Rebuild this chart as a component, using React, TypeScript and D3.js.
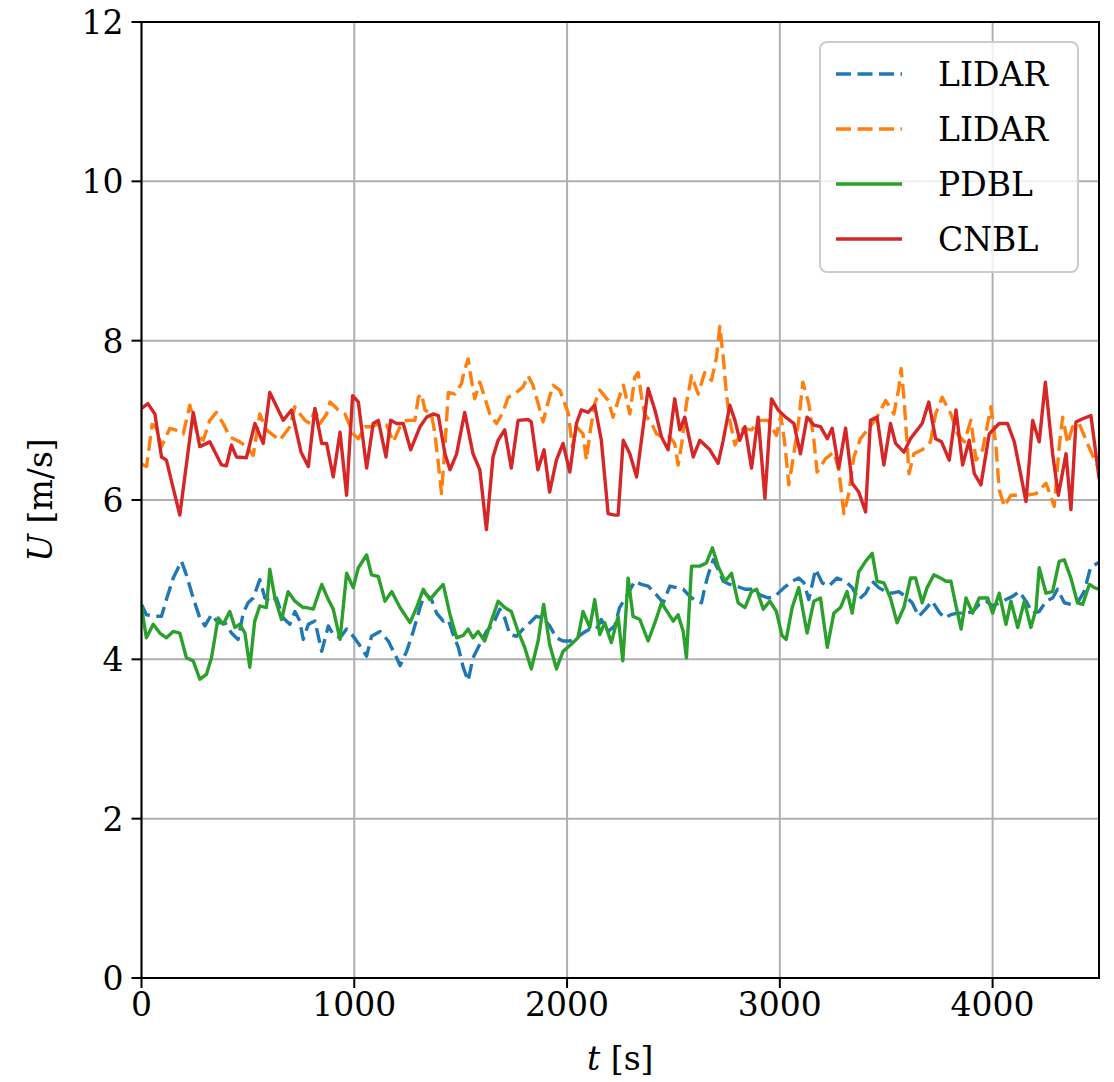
import React from "react";
import * as d3 from "d3";

type P = [number, number];

const xTicks = [0, 1000, 2000, 3000, 4000];
const yTicks = [0, 2, 4, 6, 8, 10, 12];

const lidar1: P[] = [[0,4.69],[23,4.56],[63,4.54],[94,4.54],[117,4.75],[149,5.02],[188,5.23],[211,5.06],[243,4.77],[274,4.52],[298,4.42],[329,4.56],[360,4.46],[392,4.46],[423,4.33],[454,4.25],[478,4.58],[501,4.71],[525,4.77],[556,5.0],[580,4.77],[611,4.71],[634,4.77],[666,4.52],[697,4.44],[721,4.6],[744,4.48],
[760,4.25],[784,4.44],[815,4.48],[847,4.1],[878,4.42],[901,4.31],[933,4.27],[964,4.38],[995,4.29],[1027,4.17],[1058,4.04],[1081,4.29],[1121,4.35],[1160,4.23],[1199,4.02],[1215,3.92],[1246,4.1],[1277,4.35],[1309,4.65],[1332,4.83],[1363,4.75],[1387,4.58],[1418,4.48],[1442,4.5],[1465,4.31],[1489,4.15],
[1512,3.9],[1535,3.73],[1558,4.02],[1590,4.19],[1621,4.35],[1652,4.44],[1684,4.63],[1707,4.52],[1731,4.31],[1762,4.29],[1793,4.38],[1825,4.46],[1856,4.54],[1887,4.52],[1918,4.42],[1950,4.27],[1981,4.23],[2013,4.23],[2044,4.27],[2075,4.33],[2107,4.38],[2138,4.38],[2161,4.5],[2193,4.35],[2224,4.42],[2247,4.65],
[2279,4.79],[2318,4.98],[2350,4.94],[2381,4.92],[2420,4.81],[2452,4.71],[2483,4.92],[2514,4.9],[2546,4.88],[2577,4.79],[2608,4.73],[2632,4.71],[2647,4.9],[2663,5.06],[2687,5.25],[2710,5.13],[2734,4.98],[2765,4.94],[2797,4.92],[2836,4.88],[2875,4.88],[2906,4.81],[2945,4.77],[2977,4.79],
[3020,4.9],[3058,4.98],[3089,5.02],[3113,4.96],[3136,4.75],[3168,5.13],[3199,4.96],[3230,4.92],[3269,5.02],[3309,4.98],[3340,4.9],[3371,4.75],[3403,4.83],[3434,4.98],[3465,4.9],[3497,4.85],[3528,4.83],[3559,4.85],[3591,4.79],[3622,4.71],[3653,4.54],[3685,4.63],[3716,4.73],[3747,4.6],
[3773,4.52],[3804,4.56],[3835,4.58],[3875,4.58],[3906,4.6],[3937,4.69],[3969,4.73],[4000,4.67],[4031,4.71],[4063,4.75],[4094,4.79],[4125,4.85],[4157,4.73],[4188,4.58],[4219,4.6],[4251,4.73],[4282,4.77],[4305,4.88],[4337,4.71],[4368,4.69],[4399,4.71],[4430,4.85],[4460,5.15],[4500,5.22]];

const lidar2: P[] = [[0,6.45],[24,6.42],[50,6.95],[70,6.9],[94,6.67],[133,6.9],[160,6.88],[196,6.83],[227,7.19],[266,6.8],[290,6.75],[321,7.0],[352,7.1],[384,6.96],[415,6.79],[462,6.73],[493,6.67],[525,6.56],[556,7.08],[587,6.88],[650,6.75],[697,6.92],[721,7.17],[745,7.08],[768,7.0],
[792,6.96],[815,7.13],[839,6.96],[870,7.08],[886,7.23],[925,7.13],[956,7.08],[995,6.83],[1019,6.77],[1050,6.92],[1081,6.92],[1121,6.96],[1152,6.94],[1183,6.73],[1215,6.92],[1246,7.0],[1285,7.0],[1301,7.29],[1316,7.33],[1332,7.13],[1363,7.08],[1379,6.83],[1395,6.46],[1410,6.08],[1426,6.67],[1442,7.35],[1473,7.33],[1504,7.46],
[1515,7.6],[1535,7.77],[1551,7.5],[1566,7.27],[1590,7.48],[1613,7.29],[1637,7.08],[1668,6.96],[1699,7.1],[1723,7.29],[1754,7.33],[1793,7.42],[1817,7.56],[1840,7.44],[1864,7.21],[1887,6.98],[1911,7.23],[1934,7.44],[1966,7.38],[1989,7.21],[2005,7.1],[2025,6.67],[2044,6.92],[2075,6.83],[2091,6.5],[2107,6.83],[2130,7.21],[2154,7.38],[2193,7.25],[2216,7.04],[2240,7.25],
[2265,7.44],[2295,7.08],[2318,7.54],[2334,7.6],[2350,7.29],[2365,7.08],[2397,6.96],[2420,6.83],[2452,6.79],[2483,6.79],[2506,6.71],[2522,6.44],[2538,6.69],[2561,7.21],[2585,7.56],[2616,7.33],[2647,7.6],[2679,7.5],[2702,7.79],[2718,8.18],[2734,7.79],[2749,7.33],[2765,7.0],[2789,6.69],[2828,6.9],[2867,6.88],[2906,7.0],[2945,7.0],[2984,6.81],[3005,7.06],
[3025,6.67],[3042,6.19],[3066,6.58],[3089,7.0],[3108,7.48],[3136,7.21],[3160,6.75],[3175,6.35],[3215,6.52],[3254,6.6],[3277,6.38],[3301,5.83],[3324,6.08],[3348,6.54],[3379,6.77],[3418,6.9],[3457,7.04],[3497,7.25],[3536,7.08],[3559,7.4],[3570,7.65],[3583,7.29],[3599,6.67],[3607,6.33],[3630,6.58],[3669,6.63],[3708,6.73],[3732,7.08],[3763,7.29],
[3804,7.08],[3835,6.83],[3867,6.73],[3898,7.0],[3922,6.5],[3953,6.63],[3992,7.17],[4016,6.67],[4031,6.13],[4055,5.92],[4086,6.06],[4125,6.06],[4157,6.06],[4204,6.08],[4251,6.21],[4290,5.92],[4313,6.67],[4329,7.04],[4353,6.71],[4376,6.92],[4407,6.96],[4439,6.75],[4470,6.56],[4500,6.4]];

const pdbl: P[] = [[0,4.65],[23,4.27],[55,4.44],[86,4.33],[117,4.27],[149,4.35],[180,4.33],[211,4.02],[243,3.98],[274,3.75],[305,3.81],[329,4.02],[360,4.52],[384,4.44],[415,4.6],[439,4.4],[462,4.44],[486,4.33],[509,3.9],[532,4.48],[556,4.67],[587,4.65],[603,5.13],[627,4.77],[658,4.5],[689,4.85],[721,4.73],[760,4.65],
[776,4.65],[807,4.63],[847,4.94],[878,4.75],[901,4.63],[933,4.25],[964,5.08],[995,4.9],[1019,5.15],[1058,5.31],[1081,5.06],[1113,5.04],[1144,4.73],[1176,4.85],[1215,4.65],[1262,4.46],[1293,4.65],[1324,4.88],[1355,4.75],[1387,4.85],[1418,4.94],[1450,4.56],[1481,4.27],[1512,4.3],
[1535,4.38],[1558,4.27],[1582,4.35],[1613,4.23],[1644,4.48],[1676,4.73],[1707,4.65],[1738,4.6],[1770,4.35],[1801,4.15],[1832,3.88],[1864,4.23],[1890,4.69],[1918,4.19],[1950,3.88],[1981,4.1],[2020,4.19],[2051,4.27],[2075,4.6],[2107,4.4],[2130,4.75],[2154,4.31],[2177,4.46],[2208,4.21],[2240,4.54],
[2262,3.98],[2287,5.02],[2310,4.54],[2342,4.5],[2381,4.23],[2413,4.46],[2444,4.71],[2475,4.58],[2499,4.48],[2522,4.56],[2546,4.35],[2561,4.02],[2585,5.17],[2624,5.17],[2655,5.21],[2683,5.4],[2710,5.17],[2742,4.98],[2773,5.08],[2804,4.71],[2836,4.65],[2867,4.85],[2891,4.88],[2922,4.63],[2953,4.73],[2984,4.6],[3010,4.3],[3030,4.25],
[3058,4.65],[3089,4.9],[3128,4.33],[3160,4.73],[3191,4.77],[3223,4.15],[3254,4.58],[3285,4.65],[3316,4.85],[3340,4.58],[3371,5.1],[3403,5.23],[3434,5.33],[3457,4.98],[3489,4.96],[3520,4.77],[3551,4.46],[3583,4.65],[3614,5.02],[3638,5.02],[3669,4.71],[3692,4.9],[3724,5.06],[3755,5.02],
[3781,4.98],[3804,4.98],[3828,4.67],[3852,4.38],[3875,4.77],[3906,4.58],[3937,4.77],[3977,4.77],[4000,4.58],[4031,4.83],[4063,4.44],[4086,4.73],[4118,4.4],[4149,4.73],[4180,4.4],[4204,4.63],[4219,5.15],[4251,4.83],[4282,4.85],[4313,5.23],[4337,5.25],[4368,5.02],[4399,4.71],[4423,4.69],[4455,4.94],[4478,4.9],[4500,4.88]];

const cnbl: P[] = [[0,7.15],[30,7.21],[63,7.08],[94,6.54],[117,6.5],[180,5.81],[243,7.1],[274,6.67],[321,6.73],[376,6.44],[399,6.43],[423,6.69],[446,6.54],[493,6.53],[533,6.96],[572,6.71],[603,7.35],[666,7.0],[705,7.13],[750,6.6],
[784,6.42],[815,7.15],[847,6.71],[870,6.71],[901,6.29],[933,6.85],[964,6.06],[992,7.31],[1019,7.23],[1058,6.4],[1089,6.96],[1113,7.0],[1149,6.54],[1171,7.0],[1199,6.96],[1230,6.96],[1265,6.63],[1309,6.92],[1340,7.04],[1371,7.08],[1395,7.06],[1426,6.58],[1450,6.38],[1481,6.58],[1519,7.1],
[1558,6.58],[1590,6.38],[1621,5.63],[1652,6.54],[1676,6.75],[1707,6.88],[1738,6.4],[1770,7.0],[1817,7.01],[1832,6.98],[1863,6.38],[1892,6.63],[1918,6.1],[1950,6.5],[1981,6.71],[2013,6.35],[2044,6.96],[2067,7.13],[2099,7.1],[2130,7.19],[2161,6.75],[2193,5.83],[2224,5.81],[2240,5.81],[2264,6.75],
[2295,6.58],[2327,6.29],[2358,6.92],[2381,7.4],[2413,7.13],[2444,6.79],[2475,6.63],[2506,7.27],[2530,6.88],[2553,7.04],[2593,6.54],[2624,6.75],[2671,6.63],[2710,6.46],[2734,6.75],[2765,7.19],[2789,7.0],[2812,6.75],[2836,6.92],[2867,6.4],[2898,7.04],[2930,6.02],[2961,7.27],[2992,7.13],
[3027,7.04],[3066,6.96],[3097,6.58],[3128,7.04],[3160,6.94],[3191,6.92],[3223,6.77],[3246,6.9],[3277,6.4],[3309,6.9],[3340,6.21],[3371,6.1],[3403,5.85],[3426,7.0],[3457,7.04],[3489,6.44],[3520,6.96],[3544,6.71],[3583,6.6],[3614,6.77],[3669,6.96],[3700,7.23],[3732,6.77],[3760,6.73],
[3796,6.5],[3828,7.13],[3859,6.44],[3890,6.75],[3914,6.33],[3945,6.19],[3984,6.83],[4031,6.96],[4070,6.96],[4102,6.73],[4157,5.98],[4188,7.0],[4219,6.73],[4248,7.48],[4282,6.58],[4309,6.06],[4345,6.58],[4368,5.88],[4392,6.98],[4423,7.02],[4462,7.06],[4500,6.28]];

const seriesNames = ["LIDAR", "LIDAR", "PDBL", "CNBL"];
const seriesColors = ["#1f77b4", "#ff7f0e", "#2ca02c", "#d62728"];
const seriesDashed = [true, true, false, false];
const seriesData = [lidar1, lidar2, pdbl, cnbl];

const W = 1114, H = 1082;
const L = 141.5, R = 1099, T = 22, B = 978;
const FONT = "'DejaVu Serif', serif";
const FS = 33;

export default function App() {
  const x = d3.scaleLinear().domain([0, 4500]).range([L, R]);
  const y = d3.scaleLinear().domain([0, 12]).range([B, T]);
  const line = d3.line<P>().x(d => x(d[0])).y(d => y(d[1]));
  const dash = "15,6.5";

  const legX = 820, legY = 42, legW = 258, legH = 230;
  const rowY = [74, 129, 184, 239];

  return (
    <svg width={W} height={H} style={{ position: "absolute", left: 0, top: 0, background: "#fff" }}>
      <defs>
        <clipPath id="plotclip">
          <rect x={L} y={T} width={R - L} height={B - T} />
        </clipPath>
      </defs>
      <rect x={0} y={0} width={W} height={H} fill="#fff" />
      {/* grid */}
      {xTicks.map(t => (
        <line key={"gx" + t} x1={x(t)} x2={x(t)} y1={T} y2={B} stroke="#b0b0b0" strokeWidth={2} />
      ))}
      {yTicks.map(t => (
        <line key={"gy" + t} x1={L} x2={R} y1={y(t)} y2={y(t)} stroke="#b0b0b0" strokeWidth={2} />
      ))}
      {/* series */}
      <g clipPath="url(#plotclip)">
        {seriesData.map((s, i) => (
          <path key={i} d={line(s) || ""} fill="none" stroke={seriesColors[i]} strokeWidth={3.4}
            strokeDasharray={seriesDashed[i] ? dash : undefined} strokeLinejoin="round" strokeLinecap={seriesDashed[i] ? "butt" : "square"} />
        ))}
      </g>
      {/* spines */}
      <rect x={L} y={T} width={R - L} height={B - T} fill="none" stroke="#000" strokeWidth={2} />
      {/* ticks */}
      {xTicks.map(t => (
        <g key={"tx" + t}>
          <line x1={x(t)} x2={x(t)} y1={B} y2={B + 10} stroke="#000" strokeWidth={2} />
          <text x={x(t)} y={B + 38} textAnchor="middle" fontFamily={FONT} fontSize={FS} fill="#000">{t}</text>
        </g>
      ))}
      {yTicks.map(t => (
        <g key={"ty" + t}>
          <line x1={L - 10} x2={L} y1={y(t)} y2={y(t)} stroke="#000" strokeWidth={2} />
          <text x={L - 18} y={y(t) + 12} textAnchor="end" fontFamily={FONT} fontSize={FS} fill="#000">{t}</text>
        </g>
      ))}
      {/* axis labels */}
      <text x={(L + R) / 2} y={1070} textAnchor="middle" fontFamily={FONT} fontSize={FS} fill="#000">
        <tspan fontStyle="italic">t</tspan> [s]
      </text>
      <text transform={`translate(52,${(T + B) / 2}) rotate(-90)`} textAnchor="middle" fontFamily={FONT} fontSize={FS} fill="#000">
        <tspan fontStyle="italic">U</tspan> [m/s]
      </text>
      {/* legend */}
      <rect x={legX} y={legY} width={legW} height={legH} rx={7} ry={7} fill="#fff" fillOpacity={0.8} stroke="#cccccc" strokeWidth={2} />
      {seriesNames.map((n, i) => (
        <g key={"lg" + i}>
          <line x1={836} x2={902} y1={rowY[i]} y2={rowY[i]} stroke={seriesColors[i]} strokeWidth={3.4}
            strokeDasharray={seriesDashed[i] ? dash : undefined} />
          <text x={938} y={rowY[i] + 12} fontFamily={FONT} fontSize={FS} fill="#000">{n}</text>
        </g>
      ))}
    </svg>
  );
}
